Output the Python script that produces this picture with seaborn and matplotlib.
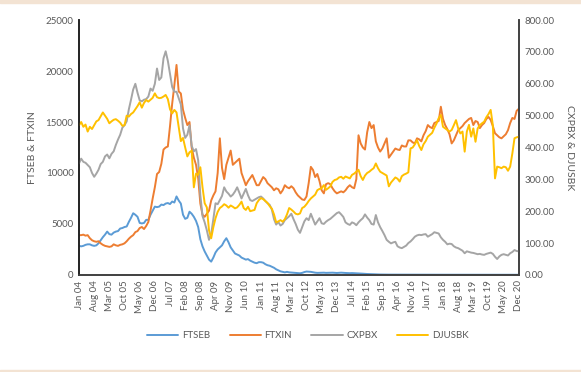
import pandas as pd
import matplotlib
matplotlib.use("Agg")
import matplotlib.pyplot as plt
import seaborn as sns

# ============================================================
# DATA (monthly, Jan 2004 - Dec 2020)
# ============================================================
months = pd.date_range("2004-01-01", periods=204, freq="MS")

ftseb = [
    2850, 2800, 2850, 2950, 3000, 3000, 2900, 2850, 2900, 3100,
    3400, 3700, 3950, 4250, 4000, 3950, 4150, 4250, 4300, 4550,
    4600, 4700, 4750, 5200, 5600, 6050, 5900, 5700, 5100, 5050,
    5100, 5400, 5400, 5900, 6300, 6700, 6650, 6700, 6900, 6850,
    7000, 7050, 6950, 7200, 7100, 7700, 7300, 7000, 5900, 5500,
    5600, 6200, 6000, 5700, 5300, 4700, 3500, 2800, 2300, 1900,
    1500, 1300, 1700, 2200, 2500, 2700, 2900, 3300, 3600, 3200,
    2700, 2400, 2100, 2000, 1900, 1700, 1600, 1500, 1550, 1400,
    1300, 1200, 1150, 1250, 1250, 1200, 1050, 950, 900, 800,
    700, 550, 450, 350, 300, 250, 300, 250, 230, 200,
    180, 170, 160,
    200, 280, 330, 320, 300, 260, 220, 200, 210, 230,
    220, 200, 210, 230, 220, 200, 190, 210, 220, 200,
    190, 180, 170, 180, 170, 160, 150, 140, 120, 100,
    90, 80, 60,
    50, 45, 40, 40, 35, 35, 30, 30, 30, 28,
    28, 26, 26, 25, 25, 25, 24, 24, 23, 23,
    22, 22, 22, 21, 21, 21, 20, 20, 20, 20,
    20, 19, 19, 19, 19, 18, 18, 18, 18, 18,
    18, 17, 17, 17, 17, 17, 16, 16, 16, 16,
    16, 16, 15, 15, 15, 15, 15, 15, 15, 15,
    15, 14, 14, 14, 14, 14, 14, 14,
]

ftxin = [
    3900, 3900, 3950, 3850, 3900, 3600, 3400, 3300, 3250, 3300,
    3100, 2950, 2850, 2800, 2750, 2800, 3000, 2900, 2850, 2950,
    3000, 3100, 3300, 3550, 3750, 3900, 4200, 4300, 4600, 4700,
    4500, 4800, 5200, 6300, 7500, 8600, 9900, 10100, 10900, 12300,
    12500, 12600, 14600, 16800, 18600, 20600, 18000, 17800, 16200, 15400,
    14700, 15000, 12500, 11500, 10800, 9500, 7000, 5900, 5700, 6000,
    6300, 7300, 7800, 8200, 10000, 13400, 10500, 9400, 10800, 11500,
    12200, 10800, 11000, 11200, 11400, 10000, 9400, 8800, 9200, 9500,
    9800, 9300, 8800, 8800, 9200, 9600, 9400, 9000, 8800, 8600,
    8300, 8500, 8400, 8000, 8300, 8800, 8600, 8500, 8700, 8500,
    8100, 7800, 7600, 7400, 7350, 7700, 9000, 10600, 10300, 9600,
    9900, 9200, 8300, 8000, 8900, 9000, 8900, 8500, 8200, 8000,
    8100, 8200, 8100, 8300, 8600, 8800, 8600, 8500, 9400, 13700,
    12900, 12500, 12300, 14000, 15000, 14400, 14700, 13100, 12500, 12100,
    12400, 12900, 13400, 11500, 11800, 12100, 12400, 12300, 12250, 12700,
    12600, 12600, 13200, 13200, 13000, 12900, 13400, 13300, 13100, 13700,
    14100, 14700, 14500, 14400, 14900, 15000, 15100, 16500, 15300, 14700,
    14300, 13800, 12900, 13200, 13700, 14200, 14400, 14600, 14900, 15100,
    15300, 15400, 14700, 15100, 15000, 14400, 14700, 14900, 15300, 15500,
    15200, 14600, 13900, 13700, 13500, 13400, 13600, 13800, 14200, 14900,
    15400, 15300, 16100, 16300,
]

cxpbx = [
    350, 365, 355, 352, 345, 338, 320, 308, 318, 330,
    348, 355, 372, 378, 366, 380, 388, 408, 425, 440,
    462, 470, 482, 520, 550, 582, 600, 572, 548, 545,
    550, 552, 560, 585, 578, 600, 648, 612, 620, 680,
    702, 672, 630, 590, 575, 575, 555, 535, 460, 430,
    440, 470, 405, 388, 395, 360, 250, 185, 165, 140,
    110, 128, 175, 225, 222, 235, 248, 275, 262, 255,
    246, 252, 262, 275, 258, 240, 255, 270, 250, 235,
    232, 236, 240, 244, 246, 240, 232, 225, 220, 205,
    175, 158, 166, 155, 160, 172, 178, 184, 192, 175,
    160, 142, 132, 150, 168, 178, 172, 192, 175, 158,
    168, 178, 162, 160, 167, 172, 176, 182, 188, 194,
    197, 190, 182, 165, 160, 157, 165, 162, 156, 165,
    172, 178, 190, 180, 172, 160, 158, 188, 165, 150,
    138, 125, 110, 104, 99, 102, 104, 90, 86, 84,
    88, 92, 100, 105, 112, 120, 124, 126, 125, 127,
    128, 120, 124, 128, 134, 132, 130, 118, 110, 104,
    96, 98, 97, 90, 86, 84, 80, 76, 68, 74,
    72, 70, 69, 67, 65, 66, 64, 63, 66, 68,
    70, 66, 57, 50, 58, 63, 65, 63, 61, 68,
    72, 78, 75, 74,
]

djusbk = [
    470, 480, 465, 472, 450, 465, 458, 470, 482, 486,
    498, 510, 500, 490, 476, 482, 487, 489, 484, 478,
    468, 470, 500, 497, 505, 510, 520, 530, 542, 525,
    540, 549, 544, 550, 556, 570, 558, 555, 556, 560,
    565, 552, 520, 507, 518, 510, 465, 420, 430, 400,
    372, 385, 390, 275, 318, 314, 338, 275, 225, 212,
    140, 115, 150, 178, 198, 210, 215, 222, 218, 211,
    218, 214, 209, 212, 220, 230, 210, 204, 214, 200,
    202, 204, 225, 235, 241, 238, 232, 226, 216, 208,
    190, 165, 168, 172, 167, 175, 190, 210, 205, 199,
    192, 190, 193, 210, 214, 222, 232, 240, 246, 252,
    266, 270, 272, 282, 267, 272, 278, 292, 298, 300,
    306, 308, 302, 309, 306, 303, 314, 318, 324, 330,
    310, 298, 312, 320, 324, 330, 335, 350, 335, 324,
    320, 316, 312, 278, 290, 298, 306, 302, 293, 310,
    315, 318, 322, 397, 400, 410, 423, 405, 392, 410,
    420, 434, 440, 446, 462, 475, 492, 502, 465, 460,
    455, 450, 455, 470, 486, 460, 444, 450, 387, 450,
    471, 434, 460, 418, 460, 470, 476, 481, 495, 505,
    518, 470, 303, 340, 338, 335, 340, 338, 327, 340,
    381, 429, 432, 434,
]

# ============================================================
# STYLE SETTINGS
# ============================================================
sns.set_style("white")
plt.rcParams["font.family"] = ["Lato", "DejaVu Sans"]
TEXT = "#595959"
COLORS = {"FTSEB": "#5B9BD5", "FTXIN": "#ED7D31",
          "CXPBX": "#A5A5A5", "DJUSBK": "#FFC000"}

df = pd.DataFrame({"idx": range(len(months)), "FTSEB": ftseb, "FTXIN": ftxin,
                   "CXPBX": cxpbx, "DJUSBK": djusbk})

fig = plt.figure(figsize=(5.81, 3.72), dpi=100)
ax = fig.add_axes([0.136, 0.261, 0.757, 0.685])
ax2 = ax.twinx()

# left axis series
for name in ["FTSEB", "FTXIN"]:
    sns.lineplot(data=df, x="idx", y=name, ax=ax, color=COLORS[name],
                 linewidth=1.4, label=name, legend=False)
# right axis series
for name in ["CXPBX", "DJUSBK"]:
    sns.lineplot(data=df, x="idx", y=name, ax=ax2, color=COLORS[name],
                 linewidth=1.4, label=name, legend=False)

ax.set_xlim(0, len(months) - 1)
ax.set_ylim(0, 25000)
ax2.set_ylim(0, 800)
ax.set_yticks(range(0, 25001, 5000))
ax2.set_yticks(range(0, 801, 100))
ax2.set_yticklabels([f"{v:.2f}" for v in range(0, 801, 100)])

tick_idx = list(range(0, len(months), 7))
ax.set_xticks(tick_idx)
ax.set_xticklabels([months[i].strftime("%b %y") for i in tick_idx], rotation=90)

ax.set_xlabel("")
ax.set_ylabel("FTSEB & FTXIN", fontsize=7.5, color=TEXT, labelpad=6)
ax2.set_ylabel("CXPBX & DJUSBK", fontsize=7.5, color=TEXT, rotation=270, labelpad=14)

for a in (ax, ax2):
    a.tick_params(axis="both", length=0, labelsize=7, colors=TEXT, pad=4)
    a.grid(False)
    a.spines["top"].set_visible(False)
    a.spines["left"].set_color("#222222")
    a.spines["right"].set_color("#404040")
    a.spines["bottom"].set_color("#404040")
    for s in ("left", "right", "bottom"):
        a.spines[s].set_linewidth(1.2)

handles = ax.get_lines()[:2] + ax2.get_lines()[:2]
fig.legend(handles, ["FTSEB", "FTXIN", "CXPBX", "DJUSBK"], loc="center",
           bbox_to_anchor=(0.53, 0.097), ncol=4, frameon=False, fontsize=7,
           labelcolor=TEXT, handlelength=3.2, columnspacing=2.0, handletextpad=0.4)

# thin beige page bands at top and bottom
fig.patches.append(plt.Rectangle((0, 0.992), 1, 0.008, transform=fig.transFigure,
                                 color="#F3E3D3", zorder=0))
fig.patches.append(plt.Rectangle((0, 0), 1, 0.006, transform=fig.transFigure,
                                 color="#F3E3D3", zorder=0))

fig.savefig("out.png", dpi=100)
